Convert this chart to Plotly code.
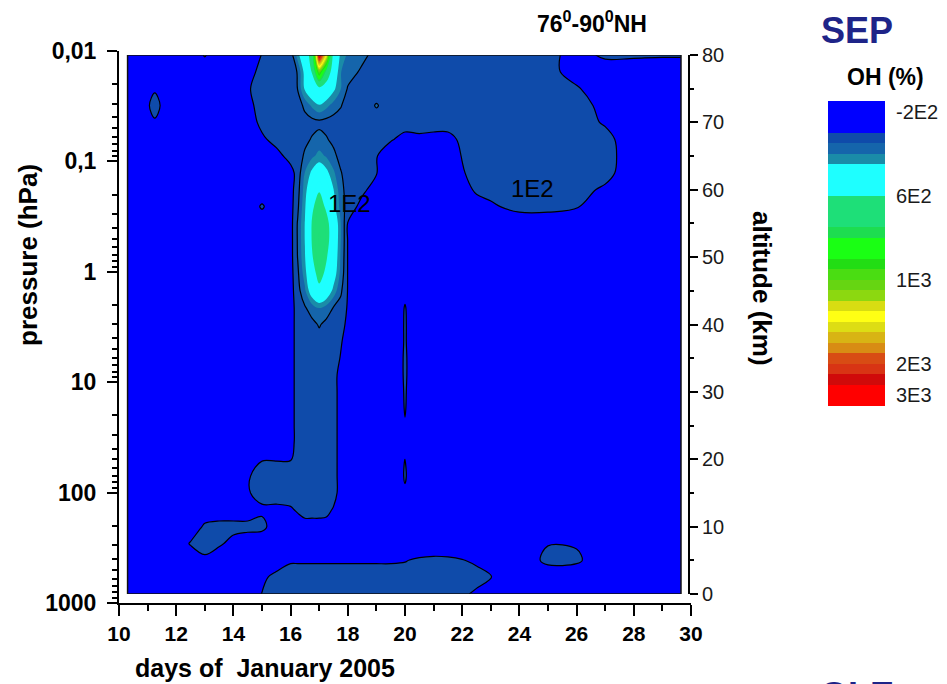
import numpy as np
import plotly.graph_objects as go

# ---------------- data ----------------
days = [10.3, 11, 11.25, 11.5, 12, 12.5, 13, 13.5, 14, 14.5, 15, 15.5, 16, 16.25, 16.5,
        16.75, 17, 17.25, 17.5, 17.75, 18, 18.5, 19, 19.5, 20, 20.5, 21, 21.5, 22, 22.5,
        23, 24, 25, 26, 27, 28, 29, 29.65]

altitude_km = [0, 2.5, 5, 7.5, 10, 12.5, 15, 17.5, 20, 22.5, 25, 27.5, 30, 32.5, 35, 37.5,
               40, 42.5, 45, 47.5, 50, 52.5, 55, 57.5, 60, 62.5, 65, 67.5, 70, 72.5, 75, 77.5, 80]

# OH change (%) ; one row per altitude (bottom -> top), one value per day
oh_percent = [
    [-80]*10 + [3] + [40]*17 + [20, -20] + [-80]*8,                                   # 0
    [-80]*10 + [-30] + [40]*19 + [10] + [-80]*7,                                      # 2.5
    [-80]*6 + [-20] + [-80]*5 + [-10]*12 + [-5, 15, 25, 20, 5, -20, -80, -80, 30, 20] + [-80]*4,  # 5
    [-80]*5 + [10, 40, 20, -40] + [-80]*23 + [-5, -10] + [-80]*4,                     # 7.5
    [-80]*6 + [20, 40, 40, 40, 30, -60, -80] + [-40]*5 + [-80]*20,                    # 10
    [-80]*10 + [-20, -20, -10, 10, 40, 40, 40, 30, -10] + [-80]*19,                   # 12.5
    [-80]*9 + [-10, 40, 40, 40] + [40]*6 + [-40] + [-80]*4 + [-10] + [-80]*13,         # 15
    [-80]*9 + [-10] + [40]*9 + [-40] + [-80]*4 + [8] + [-80]*13,                      # 17.5
    [-80]*10 + [-5, -5, -5] + [40]*6 + [-40] + [-80]*4 + [3] + [-80]*13,              # 20
    [-80]*12 + [-40] + [40]*6 + [-40] + [-80]*18,                                     # 22.5
    [-80]*12 + [-40] + [40]*6 + [-40] + [-80]*4 + [-5] + [-80]*13,                    # 25
    [-80]*12 + [-40] + [40]*6 + [-40] + [-80]*4 + [5] + [-80]*13,                     # 27.5
    [-80]*12 + [-40] + [40]*6 + [-40] + [-80]*4 + [8] + [-80]*13,                     # 30
    [-80]*12 + [-40] + [40]*6 + [-40] + [-80]*4 + [12] + [-80]*13,                    # 32.5
    [-80]*12 + [-40] + [40]*6 + [-5] + [-80]*4 + [12] + [-80]*13,                     # 35
    [-80]*12 + [-40, 40, 40, 50, 60, 50, 40, 10, -40] + [-80]*3 + [8] + [-80]*13,     # 37.5
    [-80]*12 + [-40, 40, 50, 70, 110, 70, 50, 30, -20] + [-80]*3 + [8] + [-80]*13,    # 40
    [-80]*12 + [-40, 40, 90, 150, 205, 160, 95, 60, -10] + [-80]*3 + [5] + [-80]*13,  # 42.5
    [-80]*12 + [-40, 60, 180, 400, 540, 430, 260, 120, -5] + [-80]*3 + [-20] + [-80]*13,  # 45
    [-80]*12 + [-40, 80, 250, 500, 640, 550, 380, 170, -5] + [-80]*17,                # 47.5
    [-80]*12 + [-40, 105, 290, 580, 680, 610, 430, 190, -5] + [-80]*17,               # 50
    [-80]*12 + [-40, 110, 305, 610, 710, 645, 455, 205, -5] + [-80]*17,               # 52.5
    [-80]*12 + [-40, 110, 305, 610, 690, 640, 450, 205, -5] + [-80]*17,               # 55
    [-80]*10 + [15, -80, -40, 80, 280, 560, 655, 560, 350, 160, 50, -30] + [-80]*8
        + [-20, 40, 40, 10] + [-80]*4,                                                # 57.5
    [-80]*12 + [-40, 60, 250, 450, 580, 470, 305, 140, 50, 20, -40] + [-80]*6
        + [30, 40, 40, 40, 40, -20] + [-80]*3,                                        # 60
    [-80]*12 + [-40, 40, 205, 330, 420, 340, 220, 110, 40, 40, 5] + [-80]*5
        + [-10, 40, 40, 40, 40, 40, 40, -80, -80, -80],                               # 62.5
    [-80]*11 + [-40, 40, 40, 120, 180, 230, 190, 130, 60, 40, 40, 5, -60, -80, -80, -80, -60, 5]
        + [40]*6 + [-60, -80, -80],                                                   # 65
    [-80]*10 + [-20, 40, 40, 40, 70, 110, 140, 110, 70, 40, 40, 40, 40, 10, -30, -20, -30, -30, 20]
        + [40]*5 + [30, -60, -80, -80],                                               # 67.5
    [-80, -80, -20] + [-80]*6 + [-60, 30, 40, 30, 30, 50, 60, 70, 60, 50, 40, 30, 30, 40, 40]
        + [40]*10 + [-10, -80, -80, -80],                                             # 70
    [-80, -20, 60, -20] + [-80]*5 + [-30, 40, 40, 20, 40, 130, 220, 290, 230, 160, 110, 40, 30, 110, 40]
        + [40]*9 + [40, -30, -80, -80, -80],                                          # 72.5
    [-80, -80, -20] + [-80]*6 + [-10, 40, 40, 20, 105, 320, 450, 520, 450, 330, 205, 90, 40, 30]
        + [40]*10 + [10, -60, -80, -80, -80],                                         # 75
    [-80]*9 + [-50, 40, 40, 30, 110, 350, 610, 1010, 710, 450, 205, 150, 80, 40]
        + [40]*9 + [30, -40, -60, -60, -60, -60],                                     # 77.5
    [-80]*6 + [10] + [-80]*3 + [5, 40, 40, 250, 500, 640, 3100, 1500, 450, 280, 180, 130, 60]
        + [50]*9 + [30, -40, 20, 15, 10, 10],                                         # 80
]

# colour levels (OH %) and their colours, as in the colour bar
level_values = [-300, -200, -100, 0, 100, 200, 300, 400, 500, 600, 650, 700, 750, 800, 850,
                900, 950, 1000, 1125, 1250, 1375, 1500, 1625, 1750, 1875, 2000, 2333, 2667,
                3000, 3333]
level_colors = ["#0000FF", "#0000FF", "#0000FF", "#0F4BAA", "#1565AB", "#1A8CA8",
                "#1EFFFF", "#1EFFFF", "#1EFFFF", "#1EDF78", "#1EDF78", "#1EDF78",
                "#1DDD50", "#1AFF14", "#1AFF14", "#22DD14", "#4ADD12", "#66D512",
                "#8CD810", "#D8DD12", "#FFFF14", "#DDDD14", "#D8B414", "#D88C14",
                "#D84C14", "#D83414", "#D00A0A", "#FF0000", "#FF0000"]
colorbar_values = [-200, 600, 1000, 2000, 3000]
colorbar_text = ["-2E2", "6E2", "1E3", "2E3", "3E3"]
black_line_levels = [0, 100]
contour_label_text = ["1E2", "1E2"]
contour_label_day = [18.05, 24.45]
contour_label_alt = [58.0, 60.2]

pressure_ticks = [0.01, 0.1, 1, 10, 100, 1000]
pressure_text = ["0,01", "0,1", "1", "10", "100", "1000"]
day_ticks = [10, 12, 14, 16, 18, 20, 22, 24, 26, 28, 30]

# ---------------- figure ----------------
W, H = 947, 684
def px(x):
    return x / W
def py(y):
    return 1 - y / H

n_units = len(level_colors)
unit_idx = np.arange(len(level_values), dtype=float)
z_units = np.interp(np.array(oh_percent, dtype=float), level_values, unit_idx).tolist()

colorscale = []
for k, c in enumerate(level_colors):
    colorscale.append([k / n_units, c])
    colorscale.append([(k + 1) / n_units, c])

FONT = "Arial, Liberation Sans, sans-serif"
NAVY = "#1e2488"

fig = go.Figure()
fig.add_trace(go.Contour(
    x=days, y=altitude_km, z=z_units, zmin=0, zmax=n_units,
    colorscale=colorscale, autocontour=False,
    contours=dict(coloring="fill", start=1, end=n_units - 1, size=1),
    line=dict(width=0), showscale=False, hoverinfo="skip",
    xaxis="x", yaxis="y"))

li = [float(v) for v in np.interp(black_line_levels, level_values, unit_idx)]
fig.add_trace(go.Contour(
    x=days, y=altitude_km, z=z_units, autocontour=False,
    contours=dict(coloring="none", start=li[0], end=li[-1], size=li[1] - li[0]),
    line=dict(color="black", width=1.2), showscale=False, hoverinfo="skip",
    xaxis="x", yaxis="y"))

# pressure axis holder
fig.add_trace(go.Scatter(x=[None], y=[None], xaxis="x", yaxis="y2",
                         showlegend=False, hoverinfo="skip"))

# colour bar as a stacked heatmap
fig.add_trace(go.Heatmap(
    z=[[k + 0.5] for k in range(n_units)], x=[0.5], y=[k + 0.5 for k in range(n_units)],
    zmin=0, zmax=n_units, colorscale=colorscale, showscale=False, hoverinfo="skip",
    xaxis="x3", yaxis="y3"))

cb_ticks = [float(v) for v in np.interp(colorbar_values, level_values, unit_idx)]

minor_p = [m * 10.0 ** e for e in range(-2, 3) for m in range(2, 10)]

fig.update_layout(
    template="none",
    width=W, height=H, margin=dict(l=0, r=0, t=0, b=0, pad=0, autoexpand=False),
    paper_bgcolor="white", plot_bgcolor="rgba(0,0,0,0)", showlegend=False,
    font=dict(family=FONT, color="black"),
    xaxis=dict(domain=[px(119), px(691)], range=[10, 30], anchor="y2", automargin=False,
               tickmode="array", tickvals=day_ticks, ticks="outside", ticklen=11,
               tickwidth=2, tickcolor="black", showline=True, linecolor="black",
               linewidth=2, showgrid=False, zeroline=False,
               tickfont=dict(size=21, family=FONT, weight="bold"),
               minor=dict(dtick=1, tick0=10, ticks="outside", ticklen=6, tickwidth=2,
                          tickcolor="black", showgrid=False)),
    yaxis2=dict(domain=[py(603), py(51)], type="log", range=[3, -2], anchor="x",
                automargin=False,
                side="left", tickmode="array", tickvals=pressure_ticks, ticktext=pressure_text,
                ticks="outside", ticklen=10, tickwidth=2, tickcolor="black",
                showline=True, linecolor="black", linewidth=2, showgrid=False,
                zeroline=False, ticklabelstandoff=6,
                tickfont=dict(size=23, family=FONT, weight="bold"),
                minor=dict(tickvals=minor_p, ticks="outside", ticklen=5, tickwidth=1.5,
                           tickcolor="black", showgrid=False)),
    yaxis=dict(domain=[py(594), py(55)], range=[0, 80], anchor="free", position=px(689),
               automargin=False,
               side="right", tickmode="linear", tick0=0, dtick=10, ticks="outside",
               ticklen=8, tickwidth=2, tickcolor="black", showline=True,
               linecolor="black", linewidth=2, showgrid=False, zeroline=False,
               tickfont=dict(size=20, family=FONT, color="#1a1a1a"),
               minor=dict(dtick=5, tick0=0, ticks="outside", ticklen=4, tickwidth=2,
                          tickcolor="black", showgrid=False)),
    xaxis3=dict(domain=[px(828), px(885)], range=[0, 1], anchor="y3", visible=False),
    yaxis3=dict(domain=[py(406), py(101)], range=[n_units, 0], anchor="x3", side="right",
                automargin=False,
                tickmode="array", tickvals=cb_ticks, ticktext=colorbar_text,
                ticks="outside", ticklen=6, tickcolor="rgba(0,0,0,0)", showline=False,
                showgrid=False, zeroline=False,
                tickfont=dict(size=20, family=FONT, color="#1a1a1a")),
)

fig.add_shape(type="rect", xref="x", yref="y", x0=days[0], x1=days[-1],
              y0=altitude_km[0], y1=altitude_km[-1], line=dict(color="#111", width=1.5))

ann = [
    dict(text="pressure (hPa)", x=px(28), y=py(255), textangle=-90,
         font=dict(size=26, weight="bold")),
    dict(text="altitude (km)", x=px(762), y=py(288), textangle=90,
         font=dict(size=26, weight="bold")),
    dict(text="days of\u00a0 January 2005", x=px(265), y=py(668),
         font=dict(size=25, weight="bold")),
    dict(text="76<sup>0</sup>-90<sup>0</sup>NH", x=px(592), y=py(22),
         font=dict(size=23, weight="bold")),
    dict(text="SEP", x=px(857), y=py(31), font=dict(size=36, weight="bold", color=NAVY)),
    dict(text="OH (%)", x=px(885), y=py(77), font=dict(size=23, weight="bold")),
    dict(text="GLE", x=px(857), y=py(673), yanchor="top",
         font=dict(size=36, weight="bold", color=NAVY)),
]
for a in ann:
    a.update(xref="paper", yref="paper", showarrow=False, xanchor="center")
    if "yanchor" not in a:
        a["yanchor"] = "middle"
    a["font"].setdefault("family", FONT)
for t, d, a in zip(contour_label_text, contour_label_day, contour_label_alt):
    ann.append(dict(text=t, x=d, y=a, xref="x", yref="y", showarrow=False,
                    xanchor="center", yanchor="middle",
                    font=dict(size=24, family=FONT, color="black")))
fig.update_layout(annotations=ann)

fig.write_html("out.html")
